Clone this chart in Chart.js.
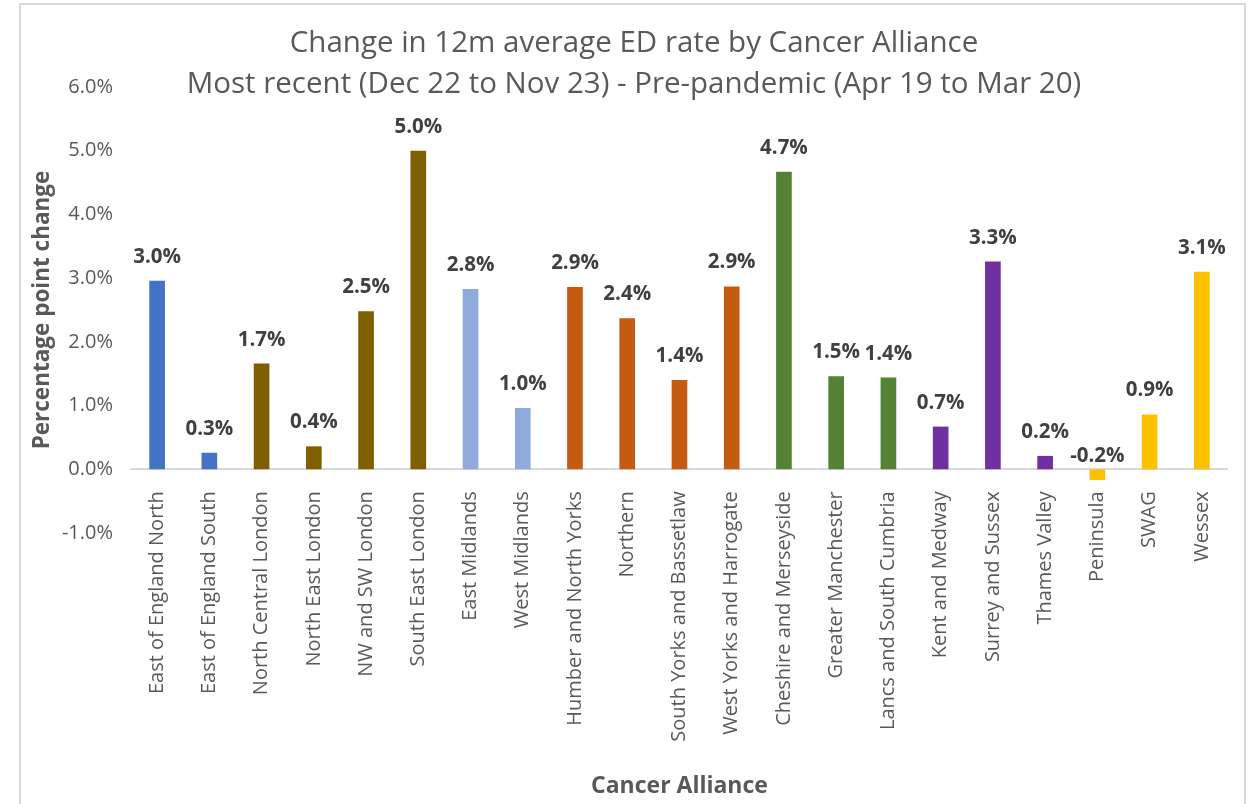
<!DOCTYPE html>
<html>
<head>
<meta charset="utf-8">
<script src="https://cdn.jsdelivr.net/npm/chart.js@4.4.1/dist/chart.umd.min.js"></script>
<style>
  html, body { margin: 0; padding: 0; background: #ffffff; }
  #frame { position: absolute; left: 19px; top: 3px; width: 1227px; height: 820px; border: 2px solid #d9d9d9; box-sizing: border-box; }
  #wrap { position: absolute; left: 0; top: 0; width: 1248px; height: 804px; }
</style>
</head>
<body>
<div id="frame"></div>
<div id="wrap"><canvas id="c" width="1248" height="804"></canvas></div>
<script>
const titleLines = ["Change in 12m average ED rate by Cancer Alliance",
  "Most recent (Dec 22 to Nov 23) - Pre-pandemic (Apr 19 to Mar 20)"];
const xTitle = "Cancer Alliance";
const yTitle = "Percentage point change";
const categories = ["East of England North","East of England South","North Central London","North East London",
  "NW and SW London","South East London","East Midlands","West Midlands","Humber and North Yorks","Northern",
  "South Yorks and Bassetlaw","West Yorks and Harrogate","Cheshire and Merseyside","Greater Manchester",
  "Lancs and South Cumbria","Kent and Medway","Surrey and Sussex","Thames Valley","Peninsula","SWAG","Wessex"];
</script>
<script>
// values in percentage points
const changeValues = [2.96,0.26,1.66,0.36,2.48,5.00,2.83,0.96,2.86,2.37,1.40,2.87,4.67,1.46,1.44,0.67,3.26,0.21,-0.17,0.86,3.10];
const groupColors = ["#4472C4","#4472C4","#7F6000","#7F6000","#7F6000","#7F6000","#8FAADC","#8FAADC","#C55A11","#C55A11",
  "#C55A11","#C55A11","#548235","#548235","#548235","#7030A0","#7030A0","#7030A0","#FFC000","#FFC000","#FFC000"];
const yTicks = { min: -1, max: 6, step: 1 };
</script>
<script>
const FONT = "'Open Sans', 'Noto Sans', sans-serif";

const overlayText = {
  id: 'overlayText',
  afterDraw(chart) {
    const ctx = chart.ctx;
    const area = chart.chartArea;
    ctx.save();
    ctx.fillStyle = '#595959';
    ctx.textAlign = 'center';
    ctx.textBaseline = 'middle';
    ctx.font = "29.5px " + FONT;
    ctx.fillText(titleLines[0], 634, 44);
    ctx.fillText(titleLines[1], 634, 85);
    ctx.font = "bold 23px " + FONT;
    ctx.fillText(xTitle, (area.left + area.right) / 2, 786);
    ctx.restore();
  }
};

const barLabels = {
  id: 'barLabels',
  afterDatasetsDraw(chart) {
    const ctx = chart.ctx;
    const meta = chart.getDatasetMeta(0);
    const ds = chart.data.datasets[0];
    const zeroY = chart.scales.y.getPixelForValue(0);
    ctx.save();
    ctx.fillStyle = '#404040';
    ctx.textAlign = 'center';
    ctx.textBaseline = 'alphabetic';
    ctx.font = "bold 20.5px " + FONT;
    meta.data.forEach((bar, i) => {
      const v = ds.data[i];
      const y = v >= 0 ? bar.y - 18 : zeroY - 7;
      ctx.fillText(v.toFixed(1) + '%', bar.x, y);
    });
    ctx.restore();
  }
};

new Chart(document.getElementById('c'), {
  type: 'bar',
  data: {
    labels: categories,
    datasets: [{
      data: changeValues,
      backgroundColor: groupColors,
      borderWidth: 0,
      categoryPercentage: 1,
      barPercentage: 0.3
    }]
  },
  options: {
    responsive: false,
    animation: false,
    devicePixelRatio: 1,
    layout: { padding: { left: 20, right: 7, top: 87, bottom: 271 } },
    plugins: { legend: { display: false }, title: { display: false }, tooltip: { enabled: false } },
    scales: {
      x: {
        position: { y: 0 },
        grid: { display: false, drawTicks: false },
        border: { display: true, color: '#d9d9d9', width: 2 },
        ticks: {
          autoSkip: false, minRotation: 90, maxRotation: 90, padding: 22,
          color: '#595959', font: { family: FONT, size: 20 }
        }
      },
      y: {
        min: yTicks.min, max: yTicks.max,
        grid: { display: false, drawTicks: false },
        border: { display: false },
        ticks: {
          stepSize: yTicks.step, padding: 18, color: '#595959',
          font: { family: FONT, size: 20 },
          callback: v => Number(v).toFixed(1) + '%'
        },
        title: {
          display: true, text: yTitle, color: '#595959',
          font: { family: FONT, size: 22.5, weight: 'bold' },
          padding: { top: 9, bottom: 0 }
        },
        afterFit(scale) { scale.width = 111; }
      }
    }
  },
  plugins: [overlayText, barLabels]
});
</script>
</body>
</html>
